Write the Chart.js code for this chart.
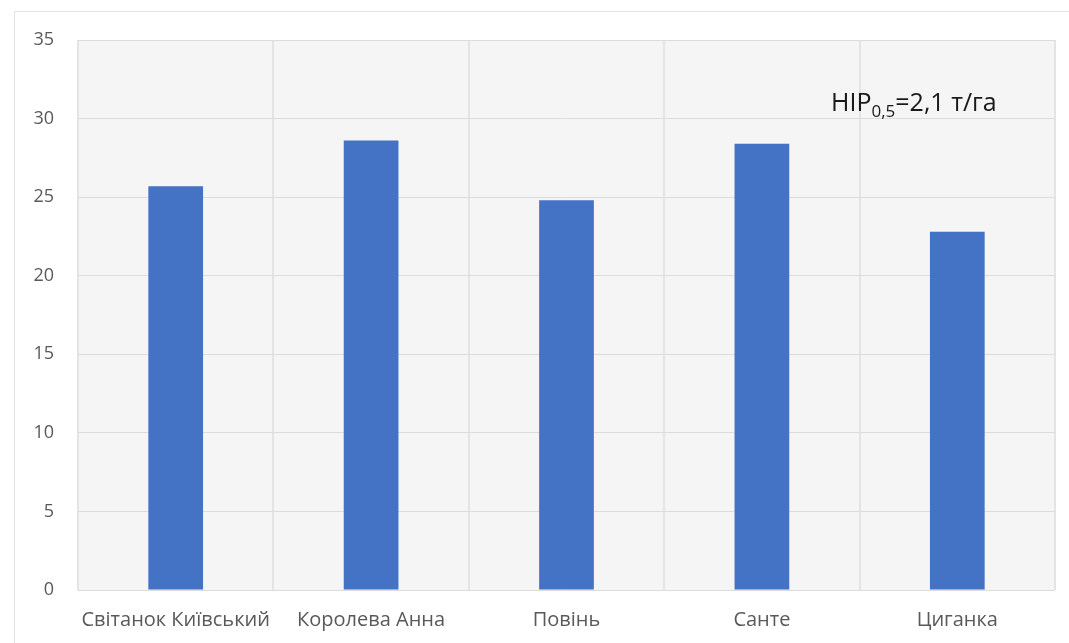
<!DOCTYPE html>
<html>
<head>
<meta charset="utf-8">
<script src="https://cdn.jsdelivr.net/npm/chart.js@4/dist/chart.umd.min.js"></script>
<style>
  html, body { margin: 0; padding: 0; background: #ffffff; }
  #wrap { width: 1069px; height: 643px; position: relative; }
</style>
</head>
<body>
<div id="wrap"><canvas id="c" width="1069" height="643"></canvas></div>
<script>
// Врожайність сортів, т/га
const categories = ['Світанок Київський', 'Королева Анна', 'Повінь', 'Санте', 'Циганка'];
const yields = [25.7, 28.6, 24.8, 28.4, 22.8];
const yTicks = [0, 5, 10, 15, 20, 25, 30, 35];

const FONT = '"Open Sans", "Noto Sans", sans-serif';

// Frame and plot-area fill behind the chart
const backdrop = {
  id: 'backdrop',
  beforeDraw(chart) {
    const { ctx, chartArea: a } = chart;
    ctx.save();
    ctx.fillStyle = '#ffffff';
    ctx.fillRect(0, 0, chart.width, chart.height);
    ctx.strokeStyle = '#e3e3e3';
    ctx.lineWidth = 1;
    ctx.strokeRect(14.5, 11.5, chart.width - 14, chart.height);
    ctx.fillStyle = '#f5f5f5';
    ctx.fillRect(a.left, a.top, a.right - a.left, a.bottom - a.top);
    ctx.restore();
  }
};

// LSD annotation with subscript
const lsdNote = {
  id: 'lsdNote',
  afterDraw(chart) {
    const { ctx } = chart;
    ctx.save();
    ctx.fillStyle = '#1a1a1a';
    ctx.textBaseline = 'alphabetic';
    let x = 831, y = 111;
    ctx.font = '25px ' + FONT;
    ctx.fillText('HIP', x, y);
    x += ctx.measureText('HIP').width;
    ctx.font = '17px ' + FONT;
    ctx.fillText('0,5', x, y + 6);
    x += ctx.measureText('0,5').width;
    ctx.font = '25px ' + FONT;
    ctx.fillText('=2,1 т/га', x, y);
    ctx.restore();
  }
};

new Chart(document.getElementById('c'), {
  type: 'bar',
  data: {
    labels: categories,
    datasets: [{
      data: yields,
      backgroundColor: '#4472C4',
      borderWidth: 0,
      categoryPercentage: 0.28,
      barPercentage: 1.0
    }]
  },
  options: {
    responsive: false,
    animation: false,
    devicePixelRatio: 1,
    layout: { padding: { left: 14, right: 14, top: 40, bottom: 0 } },
    plugins: { legend: { display: false }, tooltip: { enabled: false } },
    scales: {
      x: {
        offset: true,
        grid: { display: true, offset: true, color: '#e4e4e4', lineWidth: 2, drawTicks: false },
        border: { display: false },
        ticks: { color: '#595959', font: { family: FONT, size: 20 }, padding: 18, maxRotation: 0, autoSkip: false },
        afterFit(s) { s.height = 53; }
      },
      y: {
        min: 0,
        max: 35,
        afterBuildTicks(s) { s.ticks = yTicks.map(v => ({ value: v })); },
        grid: { color: '#dcdcdc', lineWidth: 1, drawTicks: false },
        border: { display: false },
        ticks: { color: '#595959', font: { family: FONT, size: 18 }, padding: 24 },
        afterFit(s) { s.width = 64; }
      }
    }
  },
  plugins: [backdrop, lsdNote]
});
</script>
</body>
</html>
